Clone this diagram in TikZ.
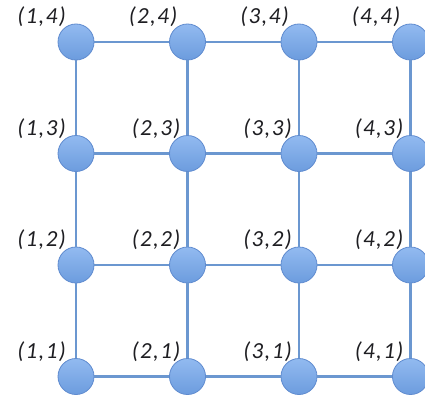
\documentclass[tikz,border=0pt]{standalone}
\usepackage{fontspec}
\usepackage{tikz}
\usetikzlibrary{positioning}
\newfontfamily\lblfont[LetterSpace=6]{Carlito}
\definecolor{gridline}{HTML}{6B97D0}
\definecolor{ballrim}{HTML}{5F8BCF}
\definecolor{balltop}{HTML}{92BAF0}
\definecolor{ballbot}{HTML}{6C9CDE}
\definecolor{ink}{HTML}{1E1E22}

\begin{document}
\begin{tikzpicture}[
      x=1pt, y=1pt,
      site/.style={circle, draw=ballrim, line width=0.8pt,
                   top color=balltop, bottom color=ballbot,
                   minimum size=36pt, inner sep=0pt},
      bond/.style={line width=2.6pt, color=gridline},
      coord/.style={inner sep=0pt, text=ink,
                    font=\lblfont\itshape\fontsize{23}{23}\selectfont},
    ]
      \useasboundingbox (0,0) rectangle (425,400);

      % lattice sites
      \node[site] (n14) at (76,358) {};
      \node[site] (n24) at (187.5,358) {};
      \node[site] (n34) at (299,358) {};
      \node[site] (n44) at (410.5,358) {};

      \node[site] (n13) at (76,246.5) {};
      \node[site] (n23) at (187.5,246.5) {};
      \node[site] (n33) at (299,246.5) {};
      \node[site] (n43) at (410.5,246.5) {};

      \node[site] (n12) at (76,135) {};
      \node[site] (n22) at (187.5,135) {};
      \node[site] (n32) at (299,135) {};
      \node[site] (n42) at (410.5,135) {};

      \node[site] (n11) at (76,23.5) {};
      \node[site] (n21) at (187.5,23.5) {};
      \node[site] (n31) at (299,23.5) {};
      \node[site] (n41) at (410.5,23.5) {};

      % horizontal bonds
      \draw[bond] (n14) -- (n24); \draw[bond] (n24) -- (n34); \draw[bond] (n34) -- (n44);
      \draw[bond] (n13) -- (n23); \draw[bond] (n23) -- (n33); \draw[bond] (n33) -- (n43);
      \draw[bond] (n12) -- (n22); \draw[bond] (n22) -- (n32); \draw[bond] (n32) -- (n42);
      \draw[bond] (n11) -- (n21); \draw[bond] (n21) -- (n31); \draw[bond] (n31) -- (n41);

      % vertical bonds
      \draw[bond] (n14) -- (n13); \draw[bond] (n13) -- (n12); \draw[bond] (n12) -- (n11);
      \draw[bond] (n24) -- (n23); \draw[bond] (n23) -- (n22); \draw[bond] (n22) -- (n21);
      \draw[bond] (n34) -- (n33); \draw[bond] (n33) -- (n32); \draw[bond] (n32) -- (n31);
      \draw[bond] (n44) -- (n43); \draw[bond] (n43) -- (n42); \draw[bond] (n42) -- (n41);

      % coordinates
      \node[coord, above left=15pt and 10pt of n14.center] (l14) {(1,4)};
      \node[coord, above left=15pt and 10pt of n24.center] (l24) {(2,4)};
      \node[coord, above left=15pt and 10pt of n34.center] (l34) {(3,4)};
      \node[coord, above left=15pt and 10pt of n44.center] (l44) {(4,4)};

      \node[coord, above left=15pt and 10pt of n13.center] (l13) {(1,3)};
      \node[coord, above left=15pt and 7pt of n23.center] (l23) {(2,3)};
      \node[coord, above left=15pt and 7pt of n33.center] (l33) {(3,3)};
      \node[coord, above left=15pt and 7pt of n43.center] (l43) {(4,3)};

      \node[coord, above left=15pt and 10pt of n12.center] (l12) {(1,2)};
      \node[coord, above left=15pt and 7pt of n22.center] (l22) {(2,2)};
      \node[coord, above left=15pt and 7pt of n32.center] (l32) {(3,2)};
      \node[coord, above left=15pt and 7pt of n42.center] (l42) {(4,2)};

      \node[coord, above left=15pt and 10pt of n11.center] (l11) {(1,1)};
      \node[coord, above left=15pt and 7pt of n21.center] (l21) {(2,1)};
      \node[coord, above left=15pt and 7pt of n31.center] (l31) {(3,1)};
      \node[coord, above left=15pt and 7pt of n41.center] (l41) {(4,1)};

    \end{tikzpicture}
\end{document}
